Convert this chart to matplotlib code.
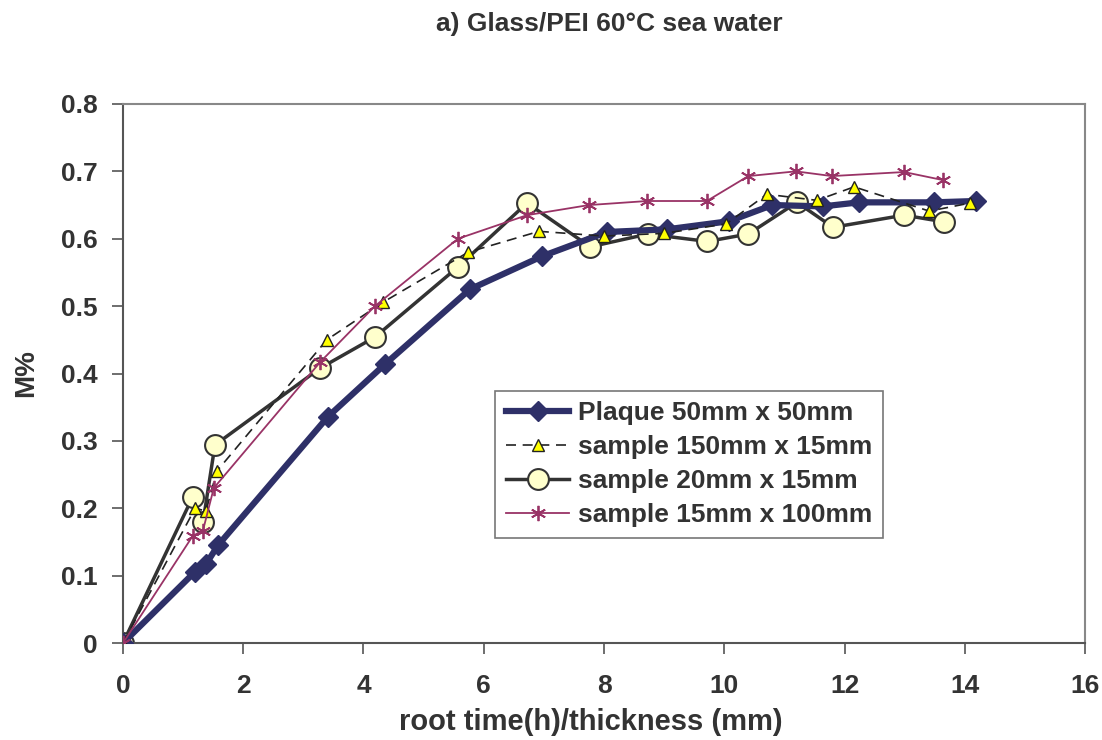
import matplotlib
matplotlib.use('Agg')
import matplotlib.pyplot as plt

plt.rcParams['font.family'] = ['Liberation Sans', 'DejaVu Sans']
plt.rcParams['font.weight'] = 'bold'

# data
plaque_x = [0, 1.20, 1.38, 1.58, 3.41, 4.36, 5.77, 6.97, 8.05, 9.05, 10.08, 10.80, 11.64, 12.24, 13.49, 14.19]
plaque_y = [0, 0.106, 0.117, 0.145, 0.336, 0.414, 0.525, 0.574, 0.610, 0.614, 0.626, 0.650, 0.648, 0.654, 0.654, 0.656]

s150_x = [0, 1.20, 1.38, 1.56, 3.39, 4.33, 5.74, 6.92, 8.00, 9.00, 10.03, 10.71, 11.54, 12.16, 13.41, 14.09]
s150_y = [0, 0.200, 0.196, 0.255, 0.450, 0.506, 0.580, 0.611, 0.604, 0.608, 0.622, 0.666, 0.657, 0.677, 0.641, 0.653]

s20_x = [0, 1.16, 1.33, 1.53, 3.28, 4.19, 5.57, 6.72, 7.77, 8.73, 9.72, 10.40, 11.21, 11.81, 12.99, 13.66]
s20_y = [0, 0.217, 0.179, 0.294, 0.408, 0.454, 0.558, 0.653, 0.588, 0.607, 0.596, 0.607, 0.654, 0.617, 0.635, 0.625]

s15_x = [0, 1.16, 1.33, 1.51, 3.28, 4.19, 5.57, 6.72, 7.75, 8.72, 9.71, 10.40, 11.19, 11.79, 12.99, 13.64]
s15_y = [0, 0.159, 0.167, 0.230, 0.417, 0.500, 0.600, 0.635, 0.650, 0.656, 0.656, 0.693, 0.700, 0.693, 0.699, 0.687]

labels = ['Plaque 50mm x 50mm', 'sample 150mm x 15mm', 'sample 20mm x 15mm', 'sample 15mm x 100mm']

txt = '#333333'
fig = plt.figure(figsize=(11.02, 7.40), dpi=100)
ax = fig.add_axes([0.1116, 0.131, 0.873, 0.7285])

ax.plot(plaque_x, plaque_y, color='#2e3068', lw=4.5, marker='D', ms=10,
        mfc='#2e3068', mec='#2e3068', label=labels[0], zorder=3)
ax.plot(s150_x, s150_y, color='#222222', lw=1.2, ls=(0, (6, 4)), marker='^', ms=8,
        mfc='#ffff00', mec='#222222', mew=1.0, label=labels[1], zorder=4)
ax.plot(s20_x, s20_y, color='#333333', lw=2.5, marker='o', ms=15,
        mfc='#ffffcc', mec='#333333', mew=1.5, label=labels[2], zorder=2)
ax.plot(s15_x, s15_y, color='#993366', lw=1.3, marker=(6, 2, 0), ms=11,
        mfc='#993366', mec='#993366', mew=1.3, label=labels[3], zorder=5)

ax.set_xlim(0, 16)
ax.set_ylim(0, 0.8)
ax.set_xticks(range(0, 17, 2))
ax.set_yticks([0, 0.1, 0.2, 0.3, 0.4, 0.5, 0.6, 0.7, 0.8])
ax.set_yticklabels(['0', '0.1', '0.2', '0.3', '0.4', '0.5', '0.6', '0.7', '0.8'])
ax.tick_params(direction='out', length=8, width=1.2, colors='#555555',
               labelcolor=txt, labelsize=19)
ax.tick_params(axis='x', pad=14)
ax.tick_params(axis='y', pad=10)
for lab in ax.get_xticklabels() + ax.get_yticklabels():
    lab.set_fontweight('bold')
ax.spines['left'].set_color('#555555')
ax.spines['bottom'].set_color('#555555')
ax.spines['top'].set_color('#888888')
ax.spines['right'].set_color('#888888')
for s in ax.spines.values():
    s.set_linewidth(1.5)

ax.set_xlabel('root time(h)/thickness (mm)', fontsize=21, fontweight='bold', color=txt)
ax.xaxis.set_label_coords(0.486, -0.12)
ax.set_ylabel('M%', fontsize=20, fontweight='bold', color=txt, labelpad=16)
fig.text(0.553, 0.968, 'a) Glass/PEI 60\u00b0C sea water', ha='center', va='center',
         fontsize=19, fontweight='bold', color=txt)

leg = ax.legend(loc='upper left', bbox_to_anchor=(0.387, 0.468), fontsize=19,
                frameon=True, fancybox=False, edgecolor='#777777', framealpha=1,
                handlelength=2.4, handletextpad=0.35, borderpad=0.4, labelspacing=0.38,
                borderaxespad=0)
leg.get_frame().set_linewidth(1.2)
for t in leg.get_texts():
    t.set_color(txt)
    t.set_fontweight('bold')

fig.savefig('out.png', dpi=100)
